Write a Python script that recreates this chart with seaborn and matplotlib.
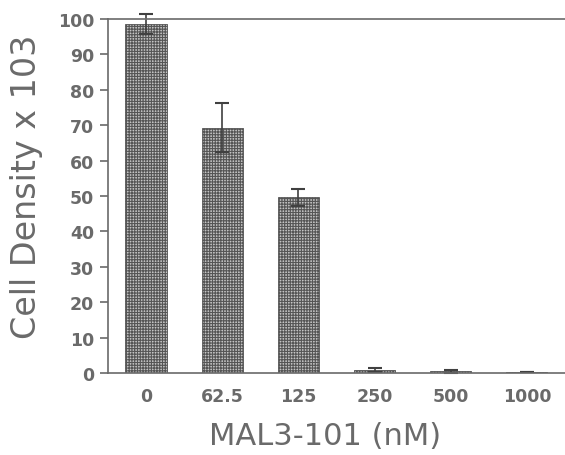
import matplotlib
matplotlib.use('Agg')
import matplotlib.pyplot as plt
import seaborn as sns
import pandas as pd

# data
doses = ["0", "62.5", "125", "250", "500", "1000"]
density = [98.6, 69.3, 49.6, 0.8, 0.5, 0.2]
errors = [2.7, 7.0, 2.5, 0.5, 0.4, 0.0]

df = pd.DataFrame({"dose": doses, "density": density})

sns.set_style("white")
plt.rcParams['font.family'] = ['DejaVu Sans']
plt.rcParams['hatch.color'] = '#4a4a4a'
plt.rcParams['hatch.linewidth'] = 0.8

grey = '#6a6a6a'
fig = plt.figure(figsize=(5.65, 4.56), dpi=100)
ax = fig.add_axes([0.191, 0.18, 0.809, 0.776])

sns.barplot(data=df, x="dose", y="density", ax=ax, order=doses,
            color='#c4c4c4', width=0.54, errorbar=None,
            edgecolor='#555555', linewidth=0.6)
for p in ax.patches:
    p.set_hatch('++++++')

eb = ax.errorbar(range(len(doses)), density, yerr=errors, fmt='none',
                 ecolor='#404040', elinewidth=1.2, capsize=5, capthick=1.5)
for art in eb.lines[1] + eb.lines[2]:
    art.set_clip_on(False)

ax.set_xlim(-0.5, 5.5)
ax.set_ylim(0, 100)
ax.set_yticks(range(0, 101, 10))

for s in ['left', 'top', 'bottom']:
    ax.spines[s].set_color(grey)
    ax.spines[s].set_linewidth(1.2)
ax.spines['right'].set_visible(False)

ax.tick_params(axis='y', direction='out', length=6, width=1.2, color=grey,
               left=True, labelsize=12.5, labelcolor=grey, pad=4)
ax.tick_params(axis='x', length=0, labelsize=12.5, labelcolor=grey, pad=10)
for lbl in ax.get_xticklabels() + ax.get_yticklabels():
    lbl.set_fontweight('bold')

ax.set_xlabel("MAL3-101 (nM)", fontsize=22, color=grey)
ax.set_ylabel("Cell Density x 103", fontsize=24, color=grey)
ax.xaxis.set_label_coords(0.475, -0.135)
ax.yaxis.set_label_coords(-0.143, 0.528)

fig.savefig("out.png", dpi=100)
